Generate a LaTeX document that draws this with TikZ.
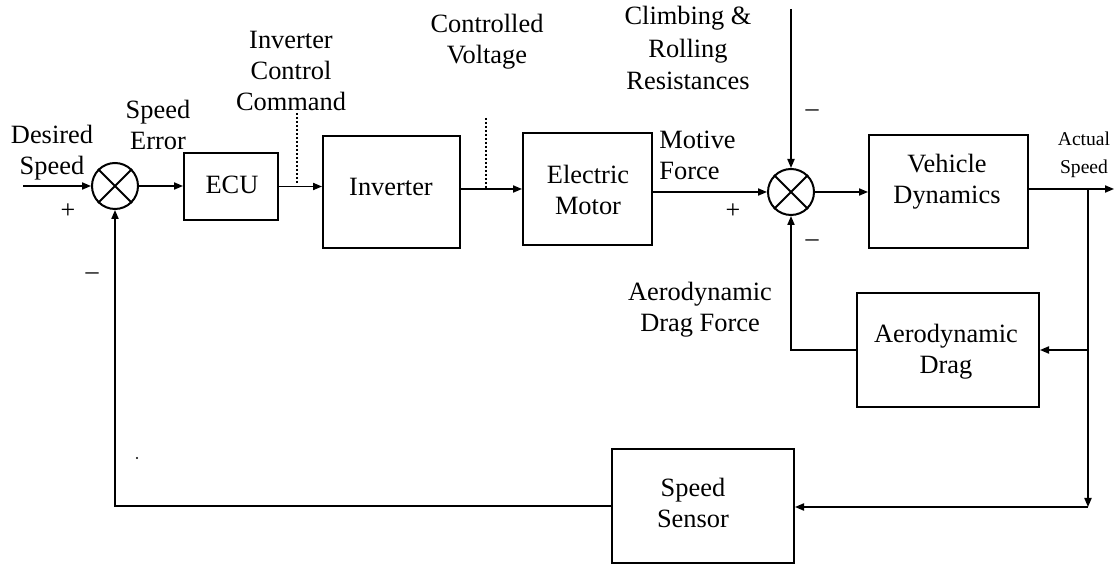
\documentclass[tikz,border=0pt]{standalone}
\usepackage{fontspec}
\setmainfont{Liberation Serif}
\usetikzlibrary{arrows.meta}
\tikzset{
  box/.style={draw, line width=1pt, inner sep=0pt},
  sumnode/.style={draw, circle, line width=1pt, minimum size=23pt, inner sep=0pt},
  txt/.style={font=\fontsize{13.2pt}{15.4pt}\selectfont, align=center, inner sep=0pt},
  smalltxt/.style={font=\fontsize{9.8pt}{14pt}\selectfont, align=center, inner sep=0pt},
  sign/.style={font=\fontsize{13pt}{15pt}\selectfont, inner sep=0pt},
  conn/.style={line width=0.7pt, -{Triangle[length=4.5pt,width=3.6pt]}},
  plain/.style={line width=0.7pt},
  dots/.style={line width=0.7pt, dash pattern=on 1pt off 1pt}
}
\begin{document}
\begin{tikzpicture}[x=0.5pt,y=-0.5pt]
\useasboundingbox (0,0) rectangle (1115,565);
% summing junctions
\node[sumnode] (s1) at (115,186) {};
\draw[line width=1pt] (s1.north east) -- (s1.south west) (s1.north west) -- (s1.south east);
\node[sumnode] (s2) at (791,192) {};
\draw[line width=1pt] (s2.north east) -- (s2.south west) (s2.north west) -- (s2.south east);
% boxes
\node[box, minimum width=47pt, minimum height=33.5pt] (ecu) at (231,186.5) {};
\node[box, minimum width=68.5pt, minimum height=56pt] (inv) at (391.5,192) {};
\node[box, minimum width=64.5pt, minimum height=56pt] (mot) at (587.5,189) {};
\node[box, minimum width=79.5pt, minimum height=56.5pt] (vd) at (948.5,191.5) {};
\node[box, minimum width=91pt, minimum height=57pt] (ad) at (948,350) {};
\node[box, minimum width=91pt, minimum height=57pt] (sen) at (703,506) {};
% box texts
\node[txt] (ecut) at (232,185) {ECU};
\node[txt] (invt) at (391,187) {Inverter};
\node[txt] (mott) at (588,190) {Electric\\Motor};
\node[txt] (vdt) at (947,182) {Vehicle\\Dynamics};
\node[txt] (adt) at (946,352) {Aerodynamic\\Drag};
\node[txt] (sent) at (693,503) {Speed\\Sensor};
% free labels
\node[txt] (lds) at (52,153) {Desired\\Speed};
\node[txt] (lse) at (158,125) {Speed\\Error};
\node[txt] (lic) at (291,71) {Inverter\\Control\\Command};
\node[txt] (lcv) at (487,42) {Controlled\\Voltage};
\node[txt, align=left, anchor=west] (lmf) at (659,155) {Motive\\Force};
\node[txt, font=\fontsize{13.2pt}{16.2pt}\selectfont] (lcr) at (688,48) {Climbing \&\\Rolling\\Resistances};
\node[smalltxt] (las) at (1084,155) {Actual\\Speed};
\node[txt] (ladf) at (700,310) {Aerodynamic\\Drag Force};
% signs
\node[sign] (p1) at (68,211) {+};
\node[sign] (m1) at (92,276) {–};
\node[sign] (p2) at (733,211) {+};
\node[sign] (m2) at (812,113) {–};
\node[sign] (m3) at (812,243) {–};
% coordinates
\coordinate (in) at (23,186);
\coordinate (dist) at (791,9);
\coordinate (out) at (1114,189);
\coordinate (br) at (1088,189);
\coordinate (corner) at (1088,507);
\coordinate (d1a) at (297,113);
\coordinate (d1b) at (297,183);
\coordinate (d2a) at (486,118);
\coordinate (d2b) at (486,188);
% connectors
\draw[conn] (in) -- (s1.west);
\draw[conn] (s1.east) -- (ecu.west |- s1.east);
\draw[conn] (ecu.east) -- (inv.west |- ecu.east);
\draw[conn] (inv.east |- mot.west) -- (mot.west);
\draw[conn] (mot.east |- s2.west) -- (s2.west);
\draw[conn] (dist) -- (s2.north);
\draw[conn] (s2.east) -- (vd.west |- s2.east);
\draw[conn] (vd.east |- out) -- (out);
\draw[conn] (br) -- (corner);
\draw[conn] (corner) -- (sen.east |- corner);
\draw[conn] (br |- ad.east) -- (ad.east);
\draw[conn] (ad.west) -| (s2.south);
\draw[conn] (sen.west) -| (s1.south);
\draw[dots] (d1a) -- (d1b);
\draw[dots] (d2a) -- (d2b);
\fill (137,458) circle (0.6pt);
\end{tikzpicture}
\end{document}
